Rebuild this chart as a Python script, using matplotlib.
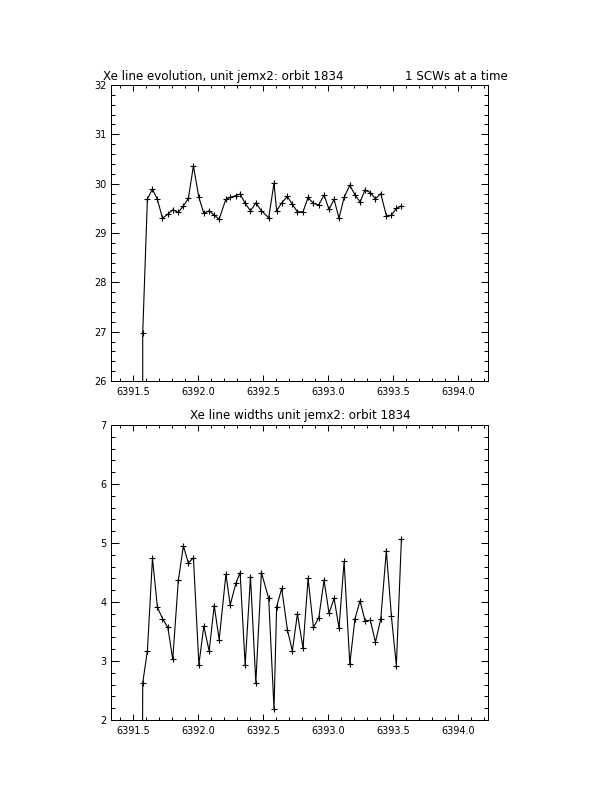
import matplotlib
matplotlib.use("Agg")
import matplotlib.pyplot as plt
from matplotlib.ticker import MultipleLocator, FormatStrFormatter

# time (days), first point is an off-scale value
time = [6391.568, 6391.572, 6391.608, 6391.647, 6391.685, 6391.724, 6391.765, 6391.803,
        6391.846, 6391.885, 6391.923, 6391.962, 6392.004, 6392.042, 6392.083, 6392.122,
        6392.160, 6392.212, 6392.245, 6392.289, 6392.321, 6392.360, 6392.401, 6392.442,
        6392.485, 6392.541, 6392.582, 6392.602, 6392.641, 6392.685, 6392.723, 6392.762,
        6392.805, 6392.844, 6392.885, 6392.926, 6392.967, 6393.005, 6393.044, 6393.082,
        6393.121, 6393.165, 6393.205, 6393.244, 6393.282, 6393.323, 6393.362, 6393.403,
        6393.446, 6393.485, 6393.523, 6393.562]

energy = [0.0, 26.97, 29.69, 29.89, 29.68, 29.30, 29.38, 29.47, 29.42, 29.55, 29.70,
          30.36, 29.72, 29.40, 29.45, 29.36, 29.28, 29.69, 29.72, 29.76, 29.79, 29.60,
          29.45, 29.61, 29.45, 29.31, 30.01, 29.45, 29.61, 29.74, 29.58, 29.43, 29.43,
          29.72, 29.60, 29.57, 29.77, 29.48, 29.68, 29.30, 29.72, 29.97, 29.77, 29.63,
          29.87, 29.82, 29.69, 29.80, 29.35, 29.36, 29.50, 29.55]

width = [0.0, 2.63, 3.17, 4.74, 3.91, 3.72, 3.57, 3.03, 4.37, 4.95, 4.66, 4.75, 2.94,
         3.59, 3.17, 3.94, 3.36, 4.47, 3.95, 4.32, 4.50, 2.93, 4.43, 2.63, 4.50, 4.06,
         2.19, 3.92, 4.23, 3.53, 3.17, 3.80, 3.22, 4.40, 3.57, 3.73, 4.37, 3.81, 4.06,
         3.56, 4.69, 2.95, 3.72, 4.02, 3.68, 3.69, 3.32, 3.71, 4.87, 3.76, 2.92, 5.07]

top_title = "Xe line evolution, unit jemx2: orbit 1834"
top_right = "1 SCWs at a time"
bottom_title = "Xe line widths unit jemx2: orbit 1834"

xlim = (6391.328, 6394.228)
xticks = [6391.5, 6392.0, 6392.5, 6393.0, 6393.5, 6394.0]

plt.rcParams['font.family'] = ['DejaVu Sans']
FS = 7
TFS = 8.6

fig = plt.figure(figsize=(6.12, 7.92), dpi=100)
W, H = 612.0, 792.0
ax1 = fig.add_axes([111/W, 1 - 381/H, 377/W, 296/H])
ax2 = fig.add_axes([111/W, 1 - 720/H, 377/W, 295/H])

def style(ax, ylim):
    ax.set_xlim(*xlim)
    ax.set_ylim(*ylim)
    ax.set_xticks(xticks)
    ax.xaxis.set_major_formatter(FormatStrFormatter('%.1f'))
    ax.xaxis.set_minor_locator(MultipleLocator(0.1))
    ax.yaxis.set_major_locator(MultipleLocator(1))
    ax.yaxis.set_minor_locator(MultipleLocator(0.2))
    ax.yaxis.set_major_formatter(FormatStrFormatter('%d'))
    ax.tick_params(which='both', direction='in', top=True, right=True,
                   labelsize=FS, width=0.72, colors='black')
    ax.tick_params(axis='x', which='major', length=4.3, pad=4)
    ax.tick_params(axis='x', which='minor', length=2.2)
    ax.tick_params(axis='y', which='major', length=5.4, pad=3)
    ax.tick_params(axis='y', which='minor', length=2.7)
    for s in ax.spines.values():
        s.set_linewidth(0.72)

ax1.plot(time, energy, color='black', lw=0.8, marker='+', ms=5, mew=0.8)
style(ax1, (26, 32))
ax2.plot(time, width, color='black', lw=0.8, marker='+', ms=5, mew=0.8)
style(ax2, (2, 7))

fig.text(103/W, 1 - 80/H, top_title, fontsize=TFS, ha='left', va='baseline')
fig.text(508/W, 1 - 80/H, top_right, fontsize=TFS, ha='right', va='baseline')
fig.text(300/W, 1 - 419/H, bottom_title, fontsize=TFS, ha='center', va='baseline')

fig.savefig("out.png", dpi=100, facecolor='white')
